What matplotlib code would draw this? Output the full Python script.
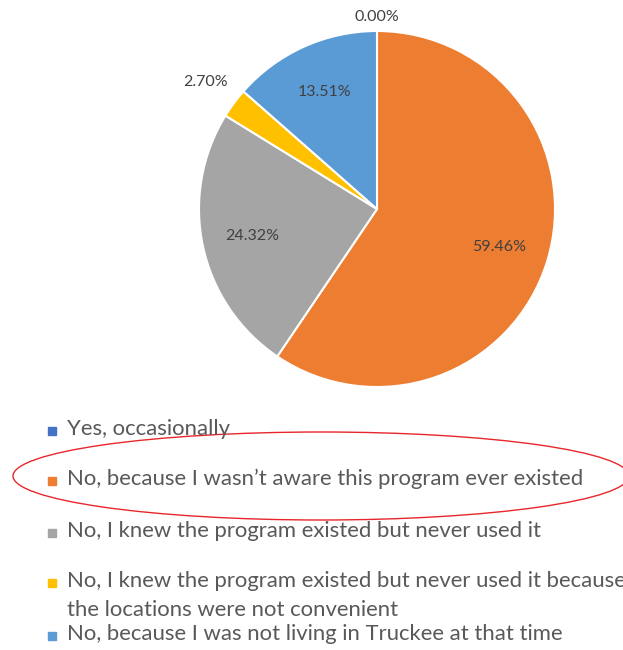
import numpy as np
import matplotlib
matplotlib.use("Agg")
import matplotlib.pyplot as plt
from matplotlib.patches import Rectangle, Ellipse

# Survey answers (percent of respondents)
categories = [
    "Yes, occasionally",
    "No, because I wasn\u2019t aware this program ever existed",
    "No, I knew the program existed but never used it",
    "No, I knew the program existed but never used it because\nthe locations were not convenient",
    "No, because I was not living in Truckee at that time",
]
shares = [0.00, 59.46, 24.32, 2.70, 13.51]
colors = ["#4472C4", "#ED7D31", "#A5A5A5", "#FFC000", "#5B9BD5"]

plt.rcParams["font.family"] = ["Lato", "DejaVu Sans"]
label_color = "#404040"
legend_color = "#595959"

fig = plt.figure(figsize=(6.23, 6.5), dpi=100)
W, H = 623, 650

# pie area: centre (377, 209) px, radius 178 px
cx, cy, r = 377, 209, 178
ax = fig.add_axes([(cx - r) / W, 1 - (cy + r) / H, 2 * r / W, 2 * r / H])
wedges, _ = ax.pie(shares, colors=colors, startangle=90, counterclock=False,
                   wedgeprops=dict(edgecolor="white", linewidth=1.5))
ax.set_xlim(-1, 1)
ax.set_ylim(-1, 1)
ax.axis("off")

# data labels: small slices outside, others inside
total = sum(shares)
start = 90.0
for val in shares:
    sweep = 360.0 * val / total
    mid = np.deg2rad(start - sweep / 2)
    start -= sweep
    dist = 0.72 if val >= 10 else 1.2
    if val == 0:
        dist = 1.08
    ax.text(dist * np.cos(mid), dist * np.sin(mid), f"{val:.2f}%",
            ha="center", va="center", fontsize=11.5, color=label_color)

# legend, laid out like the original (long entry runs off the right edge, as in the source)
rows = [431, 481, 533, 583, 636]
for y, c, lab in zip(rows, colors, categories):
    fig.patches.append(Rectangle((48 / W, 1 - (y + 4) / H), 8 / W, 8 / H,
                                 transform=fig.transFigure, color=c))
    fig.text(67 / W, 1 - (y - 12) / H, lab, ha="left", va="top",
             fontsize=15.9, color=legend_color, linespacing=1.55)

# hand-drawn highlight around the second legend entry
fig.patches.append(Ellipse((321 / W, 1 - 476 / H), 616 / W, 88 / H,
                           transform=fig.transFigure, fill=False,
                           edgecolor="#E8262B", linewidth=1.0))

fig.savefig("out.png", dpi=100)
